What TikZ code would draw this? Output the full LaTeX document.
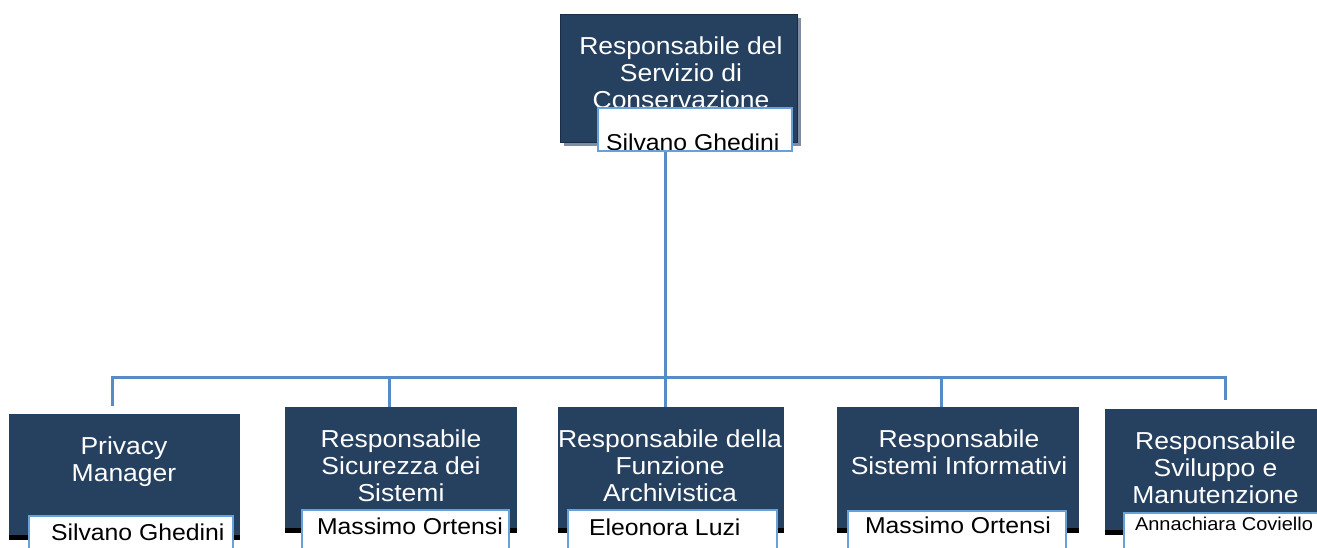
\documentclass[tikz,border=0pt]{standalone}
\usepackage{fontspec}
\setmainfont{Liberation Sans}[FakeStretch=1.08]
\usetikzlibrary{shadows,positioning}

\definecolor{boxblue}{RGB}{38,64,96}
\definecolor{rootedge}{RGB}{28,44,70}
\definecolor{rootshade}{RGB}{128,140,162}
\definecolor{linkblue}{RGB}{86,138,200}
\definecolor{nameline}{RGB}{104,160,216}

\newcommand{\titlefont}{\fontsize{18.4}{20.6}\selectfont}
\newcommand{\namefont}{\fontsize{17.2}{20}\selectfont}
\newcommand{\smallnamefont}{\fontsize{13.9}{16}\selectfont}

\tikzset{
    titlebox/.style={rectangle, fill=boxblue, inner sep=0pt, anchor=north west,
        drop shadow={shadow xshift=0pt, shadow yshift=-3.75pt, fill=black, opacity=1}},
    rootbox/.style={rectangle, fill=boxblue, draw=rootedge, line width=0.8pt, inner sep=0pt, anchor=north west,
        drop shadow={shadow xshift=2.6pt, shadow yshift=-2.6pt, fill=rootshade, opacity=1}},
    titletext/.style={text=white, align=center, inner sep=0pt, anchor=north, font=\titlefont},
    namebox/.style={rectangle, fill=white, draw=nameline, line width=1.5pt, inner sep=0pt, anchor=north west},
    nametext/.style={text=black, draw=none, fill=none, inner sep=0pt, minimum width=0pt, minimum height=0pt,
        anchor=base west, font=\namefont}
}

\begin{document}
\begin{tikzpicture}[x=0.75pt, y=-0.75pt, link/.style={draw=linkblue, line width=2.25pt}]
    \path[use as bounding box, clip] (0,0) rectangle (1317,548);

    % connectors
    \coordinate (root-out) at (665,150);
    \coordinate (hub) at (665,378);
    \coordinate (pm-in) at (112,406);
    \coordinate (ss-in) at (389,407);
    \coordinate (fa-in) at (665,407);
    \coordinate (si-in) at (941,407);
    \coordinate (sm-in) at (1225,400);
    \draw [link] (root-out) -- (hub);
    \draw [link] (pm-in) |- (hub) -| (sm-in);
    \draw [link] (hub -| ss-in) -- (ss-in);
    \draw [link] (hub) -- (fa-in);
    \draw [link] (hub -| si-in) -- (si-in);

    % top
    \node [rootbox, minimum width=177.75pt, minimum height=96pt] (root) at (560,14) {};
    \node [titletext] (root-title) at (681,36) {Responsabile del\\Servizio di\\Conservazione};
    \node [namebox, minimum width=145.5pt, minimum height=32.25pt,
        path picture={\node [nametext] (root-who) at ([xshift=5.25pt, yshift=-31.6pt]path picture bounding box.north west) {Silvano Ghedini};}] (root-name) at (597,107) {};

    % second level
    \node [titlebox, minimum width=173.25pt, minimum height=90.75pt] (pm) at (9,414) {};
    \node [titletext] (pm-title) at (124,436) {Privacy\\Manager};
    \node [namebox, minimum width=153pt, minimum height=36pt,
        path picture={\node [nametext] (pm-who) at ([xshift=15.75pt, yshift=-18.4pt]path picture bounding box.north west) {Silvano Ghedini};}] (pm-name) at (28,515) {};

    \node [titlebox, minimum width=174pt, minimum height=90.75pt] (ss) at (285,407) {};
    \node [titletext] (ss-title) at (401,429) {Responsabile\\Sicurezza dei\\Sistemi};
    \node [namebox, minimum width=155.25pt, minimum height=40pt,
        path picture={\node [nametext] (ss-who) at ([xshift=10.5pt, yshift=-18.4pt]path picture bounding box.north west) {Massimo Ortensi};}] (ss-name) at (301,509) {};

    \node [titlebox, minimum width=169.5pt, minimum height=90.75pt] (fa) at (558,407) {};
    \node [titletext] (fa-title) at (670,429) {Responsabile della\\Funzione\\Archivistica};
    \node [namebox, minimum width=156.75pt, minimum height=40pt,
        path picture={\node [nametext] (fa-who) at ([xshift=15pt, yshift=-19.1pt]path picture bounding box.north west) {Eleonora Luzi};}] (fa-name) at (567,509) {};

    \node [titlebox, minimum width=181.5pt, minimum height=90.75pt] (si) at (837,407) {};
    \node [titletext] (si-title) at (959,429) {Responsabile\\Sistemi Informativi};
    \node [namebox, minimum width=163.5pt, minimum height=40pt,
        path picture={\node [nametext] (si-who) at ([xshift=12pt, yshift=-16.9pt]path picture bounding box.north west) {Massimo Ortensi};}] (si-name) at (847,510) {};

    \node [titlebox, minimum width=165.75pt, minimum height=90.75pt] (sm) at (1105,409) {};
    \node [titletext] (sm-title) at (1215.5,431) {Responsabile\\Sviluppo e\\Manutenzione};
    \node [namebox, minimum width=165pt, minimum height=40pt,
        path picture={\node [nametext, font=\smallnamefont] (sm-who) at ([xshift=7.5pt, yshift=-13.5pt]path picture bounding box.north west) {Annachiara Coviello};}] (sm-name) at (1123,512) {};
\end{tikzpicture}
\end{document}
